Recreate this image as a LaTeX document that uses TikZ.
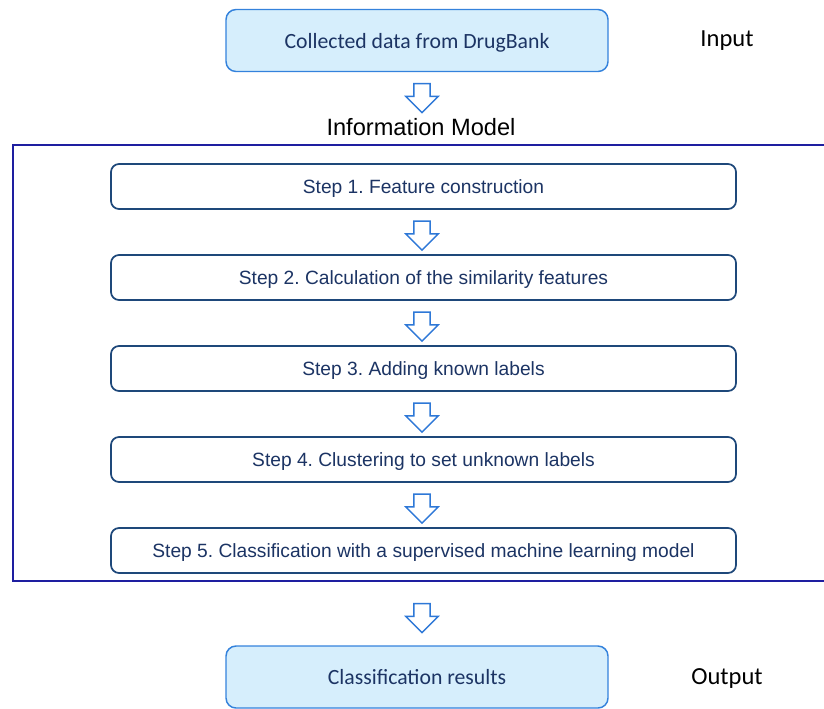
\documentclass[tikz,border=0pt]{standalone}
\usepackage{fontspec}
\setmainfont{Liberation Sans}
\newfontfamily\calibri{Carlito}
\usetikzlibrary{shapes.arrows}
\frenchspacing

\definecolor{boxfill}{RGB}{214,238,252}
\definecolor{boxline}{RGB}{52,130,220}
\definecolor{stepline}{RGB}{30,72,122}
\definecolor{steptext}{RGB}{28,52,100}
\definecolor{frameline}{RGB}{30,30,160}
\definecolor{arrowline}{RGB}{46,120,215}

\tikzset{
  iobox/.style={draw=boxline, fill=boxfill, line width=1.1pt, rounded corners=7.5pt,
    minimum width=286.5pt, minimum height=46.5pt, text=steptext, text depth=0pt,
    font=\calibri\fontsize{16.3}{19}\selectfont},
  stepbox/.style={draw=stepline, fill=white, line width=1.3pt, rounded corners=6pt,
    minimum width=468.75pt, minimum height=33.75pt, text=steptext, text depth=0pt,
    font=\fontsize{14.4}{17}\selectfont},
  downarrow/.style={single arrow, rotate=-90, draw=arrowline, fill=white,
    line width=1.1pt, inner xsep=0pt, inner ysep=5.6pt, text height=0pt, text depth=0pt,
    minimum height=21.75pt, minimum width=23.25pt, single arrow head extend=6pt},
  sidelabel/.style={font=\calibri\fontsize{18.4}{22}\selectfont},
}

\begin{document}
\begin{tikzpicture}[x=0.75pt,y=-0.75pt]
\useasboundingbox (0,0) rectangle (824,708);

% input and output
\node[iobox] (data) at (417,40.5) {Collected data from DrugBank};
\node[sidelabel] (input) at (727,41) {Input};
\node[downarrow] (arr0) at (422,94) {};
\node[font=\fontsize{17.7}{21}\selectfont] (model) at (421,127) {Information Model};

% the model
\draw[frameline, line width=1.5pt] (13,145) rectangle (840,581);
\node[stepbox] (step1) at (423.5,186.5) {Step 1. Feature construction};
\node[downarrow] (arr1) at (422,231.5) {};
\node[stepbox] (step2) at (423.5,277.5) {Step 2. Calculation of the similarity features};
\node[downarrow] (arr2) at (422,322.5) {};
\node[stepbox] (step3) at (423.5,368.5) {Step 3. Adding known labels};
\node[downarrow] (arr3) at (422,413.5) {};
\node[stepbox] (step4) at (423.5,459.5) {Step 4. Clustering to set unknown labels};
\node[downarrow] (arr4) at (422,504.5) {};
\node[stepbox] (step5) at (423.5,550.5) {Step 5. Classification with a supervised machine learning model};

\node[downarrow] (arr5) at (422,614) {};
\node[iobox] (result) at (417,677) {Classification results};
\node[sidelabel] (output) at (727,679) {Output};
\end{tikzpicture}
\end{document}
